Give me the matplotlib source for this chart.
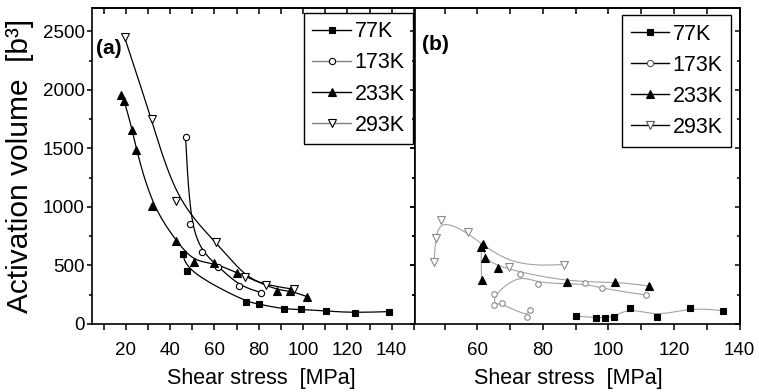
import numpy as np
import matplotlib
matplotlib.use("Agg")
import matplotlib.pyplot as plt
from matplotlib.lines import Line2D
from matplotlib.ticker import MultipleLocator

plt.rcParams['font.family'] = ['Liberation Sans', 'DejaVu Sans']

labels = ['77K', '173K', '233K', '293K']

# panel (a)
a_77_x = [45.8, 47.7, 74.1, 80.1, 91.2, 99.2, 110.4, 123.6, 138.9]
a_77_y = [600, 449, 189, 171, 126, 126, 109, 97, 106]
a_173_x = [47.0, 49.1, 54.5, 61.8, 71.1, 81.1]
a_173_y = [1600, 854, 614, 491, 326, 269]
a_233_x = [18.0, 19.4, 23.0, 24.8, 32.0, 42.7, 50.6, 59.7, 70.0, 88.2, 93.9, 101.8]
a_233_y = [1957, 1906, 1657, 1486, 1006, 711, 534, 523, 440, 286, 286, 234]
a_293_x = [19.5, 31.7, 42.7, 60.9, 73.9, 83.2, 95.8]
a_293_y = [2449, 1749, 1049, 697, 400, 334, 297]

# panel (b)
b_77_x = [90.0, 96.1, 99.0, 101.8, 106.6, 114.8, 124.9, 134.9]
b_77_y = [68, 54, 54, 63, 140, 63, 140, 114]
b_173_x = [76.1, 75.2, 67.6, 65.1, 65.1, 73.0, 78.4, 92.8, 97.9, 111.4]
b_173_y = [120, 63, 177, 163, 254, 428, 342, 348, 304, 248]
b_233_x = [61.3, 61.1, 61.6, 62.4, 66.4, 87.5, 102.0, 112.3]
b_233_y = [379, 662, 682, 562, 482, 357, 362, 325]
b_293_x = [46.8, 47.3, 48.8, 57.1, 69.7, 86.4]
b_293_y = [533, 739, 890, 790, 491, 508]

markers = ['s', 'o', '^', 'v']
GRAY = '#a3a3a3'


def bspline(x, y, n=25):
    # clamped uniform cubic B-spline, like Origin's "B-spline" connect mode
    px = np.r_[x[0], x[0], x, x[-1], x[-1]]
    py = np.r_[y[0], y[0], y, y[-1], y[-1]]
    t = np.linspace(0, 1, n)
    b0 = (1 - t) ** 3 / 6
    b1 = (3 * t ** 3 - 6 * t ** 2 + 4) / 6
    b2 = (-3 * t ** 3 + 3 * t ** 2 + 3 * t + 1) / 6
    b3 = t ** 3 / 6
    xs, ys = [], []
    for i in range(len(px) - 3):
        xs.append(b0 * px[i] + b1 * px[i + 1] + b2 * px[i + 2] + b3 * px[i + 3])
        ys.append(b0 * py[i] + b1 * py[i + 1] + b2 * py[i + 2] + b3 * py[i + 3])
    return np.concatenate(xs), np.concatenate(ys)


def style_axes(ax, xmin, xmax, xmajor, show_ylabels):
    ax.set_xlim(xmin, xmax)
    ax.set_ylim(0, 2700)
    ax.xaxis.set_major_locator(MultipleLocator(xmajor))
    ax.xaxis.set_minor_locator(MultipleLocator(xmajor / 2))
    ax.yaxis.set_major_locator(MultipleLocator(500))
    ax.yaxis.set_minor_locator(MultipleLocator(250))
    for s in ax.spines.values():
        s.set_linewidth(1.2)
    ax.tick_params(axis='x', which='both', direction='out', length=4.5,
                   width=1.1, labelsize=13.5, pad=8.5)
    ax.tick_params(axis='y', which='major', direction='out', length=3.3,
                   width=1.1, labelsize=13.5, pad=2, labelleft=show_ylabels)
    ax.tick_params(axis='y', which='minor', direction='out', length=2.5,
                   width=1.1)
    # ticks pointing inward on top and right
    top = ax.secondary_xaxis('top')
    top.xaxis.set_major_locator(MultipleLocator(xmajor))
    top.xaxis.set_minor_locator(MultipleLocator(xmajor / 2))
    top.tick_params(which='both', direction='in', length=4, width=1.1,
                    labeltop=False)
    right = ax.secondary_yaxis('right')
    right.yaxis.set_major_locator(MultipleLocator(500))
    right.yaxis.set_minor_locator(MultipleLocator(250))
    right.tick_params(which='major', direction='in', length=3.3, width=1.1,
                      labelright=False)
    right.tick_params(which='minor', direction='in', length=2.5, width=1.1)
    for sec in (top, right):
        for s in sec.spines.values():
            s.set_linewidth(1.2)


fig = plt.figure(figsize=(7.59, 3.92), dpi=100)
ax1 = fig.add_axes([92 / 759, 68 / 392, 323 / 759, 316 / 392])
ax2 = fig.add_axes([415 / 759, 68 / 392, 324.5 / 759, 316 / 392])

# ---- panel (a)
a_sets = [(a_77_x, a_77_y), (a_173_x, a_173_y), (a_233_x, a_233_y), (a_293_x, a_293_y)]
a_ms = [4, 4.5, 5.5, 5.5]
for (x, y), m, ms in zip(a_sets, markers, a_ms):
    ax1.plot(*bspline(x, y), color='black', lw=0.9, zorder=2)
    filled = m in ('s', '^')
    ax1.plot(x, y, ls='none', marker=m, ms=ms, mec='black', mew=0.8,
             mfc='black' if filled else 'white', zorder=3)

# ---- panel (b)
b_sets = [(b_77_x, b_77_y), (b_173_x, b_173_y), (b_233_x, b_233_y), (b_293_x, b_293_y)]
b_ms = [4.2, 4, 5.5, 5.5]
for (x, y), m, ms in zip(b_sets, markers, b_ms):
    ax2.plot(*bspline(x, y), color=GRAY, lw=0.8, zorder=2)
    filled = m in ('s', '^')
    ax2.plot(x, y, ls='none', marker=m, ms=ms,
             mec='black' if filled else '#8a8a8a', mew=0.8,
             mfc='black' if filled else 'white', zorder=3)

style_axes(ax1, 4.8, 150.5, 20, True)
style_axes(ax2, 41, 140, 20, False)

ax1.set_ylabel('Activation volume  [b³]', fontsize=21.5)
ax1.yaxis.set_label_coords(-0.18, 0.5)
ax1.set_xlabel('Shear stress  [MPa]', fontsize=15.5)
ax1.xaxis.set_label_coords(0.523, -0.14)
ax2.set_xlabel('Shear stress  [MPa]', fontsize=15.5)
ax2.xaxis.set_label_coords(0.471, -0.14)

ax1.text(0.012, 0.873, '(a)', transform=ax1.transAxes, fontsize=15,
         fontweight='bold', ha='left', va='center')
ax2.text(0.021, 0.885, '(b)', transform=ax2.transAxes, fontsize=15,
         fontweight='bold', ha='left', va='center')


def legend_handles(line_colors, edge_open):
    hs = []
    for m, lc, ms in zip(markers, line_colors, [4, 4.5, 5.5, 5.5]):
        filled = m in ('s', '^')
        hs.append(Line2D([], [], color=lc, lw=1, marker=m, ms=ms,
                         mec='black' if filled else edge_open, mew=0.8,
                         mfc='black' if filled else 'white'))
    return hs


leg_kw = dict(loc='upper right', fontsize=15.5, frameon=True, fancybox=False,
              framealpha=1, edgecolor='black', borderaxespad=0,
              handlelength=1.8, handletextpad=0.15, labelspacing=0.47,
              borderpad=0.4)
l1 = ax1.legend(legend_handles(['black', '#808080', 'black', '#808080'], 'black'),
                labels, bbox_to_anchor=(1 - 2 / 323, 1 - 4.7 / 316), **leg_kw)
l2 = ax2.legend(legend_handles(['black'] * 4, '#555555'),
                labels, bbox_to_anchor=(1 - 8.3 / 324.5, 1 - 7 / 316), **leg_kw)
for lg in (l1, l2):
    lg.get_frame().set_linewidth(1.0)
    lg.set_zorder(5)

fig.savefig('out.png', dpi=100)
